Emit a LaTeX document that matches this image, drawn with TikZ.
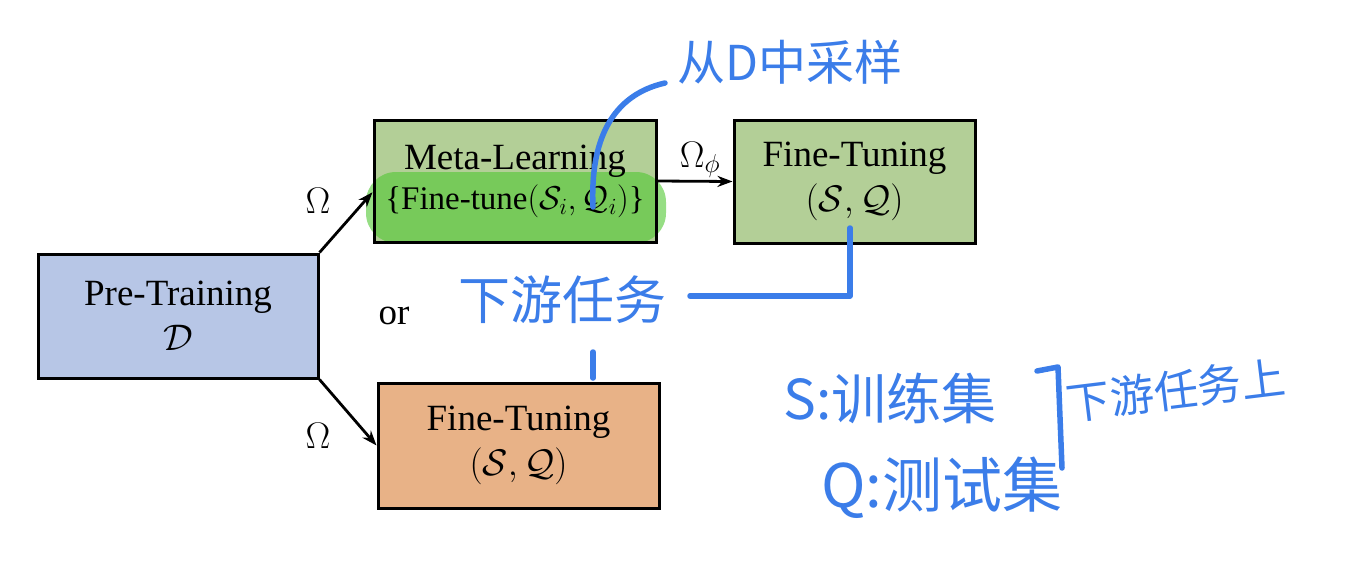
\RequirePackage{fix-cm}
\documentclass[tikz,border=0pt]{standalone}
\usepackage{fontspec}
\setmainfont{Liberation Serif}
\newfontfamily\cjk{Noto Sans CJK SC}
\usetikzlibrary{arrows.meta,calc}
\definecolor{prefill}{RGB}{183,198,230}
\definecolor{greenfill}{RGB}{179,207,151}
\definecolor{orangefill}{RGB}{232,178,135}
\definecolor{hlgreen}{RGB}{80,200,50}
\definecolor{pen}{RGB}{59,125,233}
\pgfdeclarelayer{back}
\pgfdeclarelayer{hl}
\pgfsetlayers{back,hl,main}
\tikzset{
  boxnode/.style={draw=black,line width=3pt,align=center,inner sep=0pt,
    font=\fontsize{37}{45}\selectfont},
  arr/.style={line width=2.8pt,-{Stealth[length=15pt,width=11pt]}},
  lbl/.style={font=\fontsize{37}{45}\selectfont,inner sep=0pt},
  ink/.style={draw=pen,line width=5.5pt,line cap=round,line join=round},
  hand/.style={text=pen,inner sep=0pt},
}
\begin{document}
\begin{tikzpicture}[x=1pt,y=-1pt]
\useasboundingbox (0,0) rectangle (1362,565);
% boxes
\node[boxnode,minimum width=280pt,minimum height=124pt] (pre) at (178,316)
  {Pre-Training\\$\mathcal{D}$};
\node[boxnode,minimum width=282pt,minimum height=122pt] (meta) at (515,181)
  {Meta-Learning\\[-5pt]{\fontsize{33}{38}\selectfont\{Fine-tune$(\mathcal{S}_i,\mathcal{Q}_i)$\}}};
\node[boxnode,minimum width=241pt,minimum height=123pt] (ft1) at (854.5,181.5)
  {Fine-Tuning\\$(\mathcal{S},\mathcal{Q})$};
\node[boxnode,minimum width=281pt,minimum height=125pt] (ft2) at (518.5,445.5)
  {Fine-Tuning\\$(\mathcal{S},\mathcal{Q})$};
\begin{pgfonlayer}{back}
  \fill[prefill] (pre.south west) rectangle (pre.north east);
  \fill[greenfill] (meta.south west) rectangle (meta.north east);
  \fill[greenfill] (ft1.south west) rectangle (ft1.north east);
  \fill[orangefill] (ft2.south west) rectangle (ft2.north east);
\end{pgfonlayer}
\begin{pgfonlayer}{hl}
  \fill[hlgreen,opacity=0.6,rounded corners=30pt] (366,172) rectangle (666,243);
\end{pgfonlayer}
% connectors
\draw[arr] (pre.north east) -- ($(meta.south west)!0.41!(meta.north west)$);
\draw[arr] (pre.south east) -- (ft2.west);
\draw[arr] (meta.east) -- (ft1.west);
\node[lbl] (om1) at (318,201) {$\Omega$};
\node[lbl] (om2) at (318,436) {$\Omega$};
\node[lbl] (omphi) at (700,160) {$\Omega_\phi$};
\node[lbl] (or) at (394,316) {or};
% handwritten annotations
\coordinate (c0) at (593,207);
\coordinate (c1) at (665,83);
\draw[ink] (c0) .. controls (590,140) and (612,95) .. (c1);
\node[hand,font={\cjk\fontsize{48}{50}\selectfont}] (samp) at (790,62) {从D中采样};
\node[hand,font={\cjk\fontsize{52}{54}\selectfont}] (down) at (562,300) {下游任务};
\coordinate (d0) at (690,296);
\coordinate (d1) at (850,296);
\coordinate (d2) at (850,228);
\draw[ink] (d0) -- (d1) -- (d2);
\coordinate (t0) at (593,352);
\coordinate (t1) at (593,378);
\draw[ink] (t0) -- (t1);
\node[hand,font={\cjk\fontsize{55}{57}\selectfont}] (sset) at (890,398) {S:训练集};
\node[hand,font={\cjk\fontsize{60}{62}\selectfont}] (qset) at (942,488) {Q:测试集};
\coordinate (b0) at (1037,371);
\coordinate (b1) at (1058,367);
\coordinate (b2) at (1062,468);
\draw[ink] (b0) -- (b1) -- (b2);
\node[hand,font={\cjk\fontsize{44}{46}\selectfont},rotate=7] (onds) at (1176,390) {下游任务上};
\end{tikzpicture}
\end{document}
